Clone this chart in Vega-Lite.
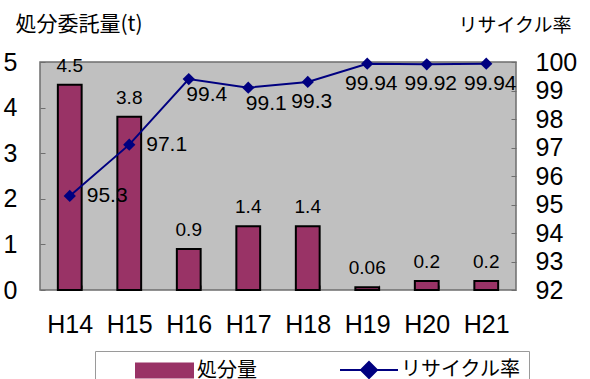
{
  "$schema": "https://vega.github.io/schema/vega-lite/v6.json",
  "autosize": "none",
  "width": 476,
  "height": 228,
  "padding": {"left": 40, "top": 62, "right": 74, "bottom": 89},
  "background": "white",
  "config": {
    "view": {"fill": "#c0c0c0", "stroke": "#6e6e6e", "strokeWidth": 1.5},
    "axis": {"labelFont": "Liberation Sans", "labelColor": "#000000", "labelFontSize": 25, "domain": false, "grid": false, "tickColor": "#6e6e6e", "tickWidth": 1, "labelOverlap": false},
    "legend": {
      "orient": "none", "legendX": 55, "legendY": 289, "direction": "horizontal",
      "symbolSize": 400, "labelFont": "Noto Sans CJK JP", "labelFontSize": 20, "labelColor": "#000000",
      "labelOffset": 40, "columnPadding": 50, "padding": 8, "strokeColor": "#9a9a9a", "fillColor": "#ffffff", "symbolOffset": 32
    }
  },
  "data": {
    "values": [
      {"year": "H14", "amount": 4.5, "rate": 95.3},
      {"year": "H15", "amount": 3.8, "rate": 97.1},
      {"year": "H16", "amount": 0.9, "rate": 99.4},
      {"year": "H17", "amount": 1.4, "rate": 99.1},
      {"year": "H18", "amount": 1.4, "rate": 99.3},
      {"year": "H19", "amount": 0.06, "rate": 99.94},
      {"year": "H20", "amount": 0.2, "rate": 99.92},
      {"year": "H21", "amount": 0.2, "rate": 99.94}
    ]
  },
  "encoding": {
    "x": {
      "field": "year", "type": "nominal", "sort": null,
      "scale": {"paddingInner": 0.6, "paddingOuter": 0.3},
      "axis": {"title": null, "labelAngle": 0, "labelPadding": 27, "tickBand": "extent", "tickSize": -5, "labelBaseline": "top"}
    }
  },
  "layer": [
    {
      "encoding": {
        "y": {
          "field": "amount", "type": "quantitative",
          "scale": {"domain": [0, 5], "nice": false},
          "axis": {"orient": "left", "values": [0, 1, 2, 3, 4, 5], "tickSize": -5, "labelPadding": 28, "labelOverlap": false,
            "title": "処分委託量(t)", "titleFont": "Noto Sans CJK JP", "titleFontSize": 21, "titleFontWeight": "normal", "titleColor": "#000000",
            "titleAngle": 0, "titleX": -25, "titleY": -32, "titleAlign": "left", "titleBaseline": "alphabetic"}
        }
      },
      "layer": [
        {
          "mark": {"type": "bar", "stroke": "#000000", "strokeWidth": 2},
          "encoding": {
            "color": {
              "datum": "処分量", "type": "nominal",
              "scale": {"domain": ["処分量", "リサイクル率"], "range": ["#993366", "#000080"]},
              "legend": {
                "title": null,
                "encode": {
                  "symbols": {
                    "update": {
                      "shape": {"signal": "datum.value === '処分量' ? 'M-1,-0.7H4.7V0.7H-1Z' : 'M-1,0H4.8M1.9,-0.8L2.7,0L1.9,0.8L1.1,0Z'"},
                      "fill": {"signal": "datum.value === '処分量' ? '#993366' : '#000080'"},
                      "stroke": {"signal": "datum.value === '処分量' ? '#000000' : '#000080'"},
                      "strokeWidth": {"value": 2},
                      "opacity": {"value": 1}
                    }
                  }
                }
              }
            }
          }
        },
        {
          "mark": {"type": "text", "baseline": "alphabetic", "dy": -13, "font": "Liberation Sans", "fontSize": 19, "color": "#000000"},
          "encoding": {
            "text": {"field": "amount", "type": "nominal"}
          }
        }
      ]
    },
    {
      "encoding": {
        "y": {
          "field": "rate", "type": "quantitative",
          "scale": {"domain": [92, 100], "nice": false},
          "axis": {"orient": "right", "values": [92, 93, 94, 95, 96, 97, 98, 99, 100], "tickSize": -5, "labelPadding": 24, "labelOverlap": false,
            "title": "リサイクル率", "titleFont": "Noto Sans CJK JP", "titleFontSize": 19, "titleFontWeight": "normal", "titleColor": "#000000",
            "titleAngle": 0, "titleX": -58, "titleY": -31, "titleAlign": "left", "titleBaseline": "alphabetic"}
        }
      },
      "layer": [
        {
          "mark": {"type": "line", "color": "#000080", "strokeWidth": 2, "point": {"shape": "diamond", "size": 150, "filled": true, "color": "#000080"}},
          "encoding": {
            "color": {
              "datum": "リサイクル率", "type": "nominal",
              "legend": {
                "title": null,
                "encode": {
                  "symbols": {
                    "update": {
                      "shape": {"signal": "datum.value === '処分量' ? 'M-1,-0.7H4.7V0.7H-1Z' : 'M-1,0H4.8M1.9,-0.8L2.7,0L1.9,0.8L1.1,0Z'"},
                      "fill": {"signal": "datum.value === '処分量' ? '#993366' : '#000080'"},
                      "stroke": {"signal": "datum.value === '処分量' ? '#000000' : '#000080'"},
                      "strokeWidth": {"value": 2},
                      "opacity": {"value": 1}
                    }
                  }
                }
              }
            }
          }
        },
        {
          "transform": [{"filter": {"field": "year", "oneOf": ["H14", "H15"]}}],
          "mark": {"type": "text", "align": "left", "baseline": "middle", "dx": 17, "font": "Liberation Sans", "fontSize": 21, "color": "#000000"},
          "encoding": {
            "text": {"field": "rate", "type": "nominal"}
          }
        },
        {
          "transform": [{"filter": {"field": "year", "oneOf": ["H16", "H17"]}}],
          "mark": {"type": "text", "align": "center", "baseline": "middle", "dx": 18, "dy": 16, "font": "Liberation Sans", "fontSize": 21, "color": "#000000"},
          "encoding": {
            "text": {"field": "rate", "type": "nominal"}
          }
        },
        {
          "transform": [{"filter": {"field": "year", "oneOf": ["H18", "H19", "H20", "H21"]}}],
          "mark": {"type": "text", "align": "center", "baseline": "middle", "dx": 4, "dy": 20, "font": "Liberation Sans", "fontSize": 21, "color": "#000000"},
          "encoding": {
            "text": {"field": "rate", "type": "nominal"}
          }
        }
      ]
    }
  ],
  "resolve": {"scale": {"y": "independent"}}
}
